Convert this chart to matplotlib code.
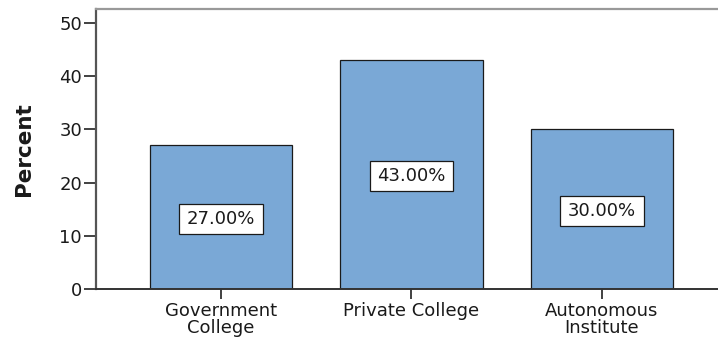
import matplotlib
matplotlib.use("Agg")
import matplotlib.pyplot as plt
from matplotlib.patches import Rectangle

categories = ["Government\nCollege", "Private College", "Autonomous\nInstitute"]
percent = [27.0, 43.0, 30.0]
y_ticks = [0, 10, 20, 30, 40, 50]

plt.rcParams["font.family"] = ["DejaVu Sans"]

W, H = 718, 343
fig = plt.figure(figsize=(W / 100, H / 100), dpi=100)
fig.patch.set_facecolor("white")

# plot frame: left spine at x=96 px, baseline at y=289 px, top at y=9 px
left_px, right_px, top_px, base_px = 96, 727, 9, 289
ax = fig.add_axes([left_px / W, (H - base_px) / H,
                   (right_px - left_px) / W, (base_px - top_px) / H])

x = list(range(len(categories)))
bar_color = "#7aa8d6"
ax.bar(x, percent, width=0.75, color=bar_color, edgecolor="#1a1a1a",
       linewidth=0.9, zorder=2)

ax.set_xlim(-0.656, 2.656)
ax.set_ylim(0, 52.6)

# value labels in white boxes at mid-height of each bar
box_w, box_h = 0.44, 5.7
for xi, v in zip(x, percent):
    cy = v / 2 - 0.3
    ax.add_patch(Rectangle((xi - box_w / 2, cy - box_h / 2), box_w, box_h,
                           facecolor="white", edgecolor="#1a1a1a",
                           linewidth=0.9, zorder=3))
    ax.text(xi, cy, f"{v:.2f}%", ha="center", va="center", fontsize=13,
            color="#1a1a1a", zorder=4)

ax.set_yticks(y_ticks)
ax.set_yticklabels([str(t) for t in y_ticks])
ax.set_xticks(x)
ax.set_xticklabels(categories, linespacing=0.95)

ax.tick_params(axis="y", direction="out", length=9, width=1.3, pad=1,
               labelsize=13, colors="#333333")
ax.tick_params(axis="x", direction="out", length=7, width=1.3, pad=2,
               labelsize=13, colors="#333333")
for lbl in ax.get_xticklabels() + ax.get_yticklabels():
    lbl.set_color("#1a1a1a")

ax.set_ylabel("Percent", fontsize=15.5, fontweight="bold", color="#1a1a1a",
              labelpad=18)

ax.spines["left"].set_color("#555555")
ax.spines["left"].set_linewidth(1.6)
ax.spines["bottom"].set_color("#333333")
ax.spines["bottom"].set_linewidth(1.4)
ax.spines["top"].set_color("#999999")
ax.spines["top"].set_linewidth(1.6)
ax.spines["right"].set_visible(False)

fig.savefig("out.png", dpi=100, facecolor="white")
